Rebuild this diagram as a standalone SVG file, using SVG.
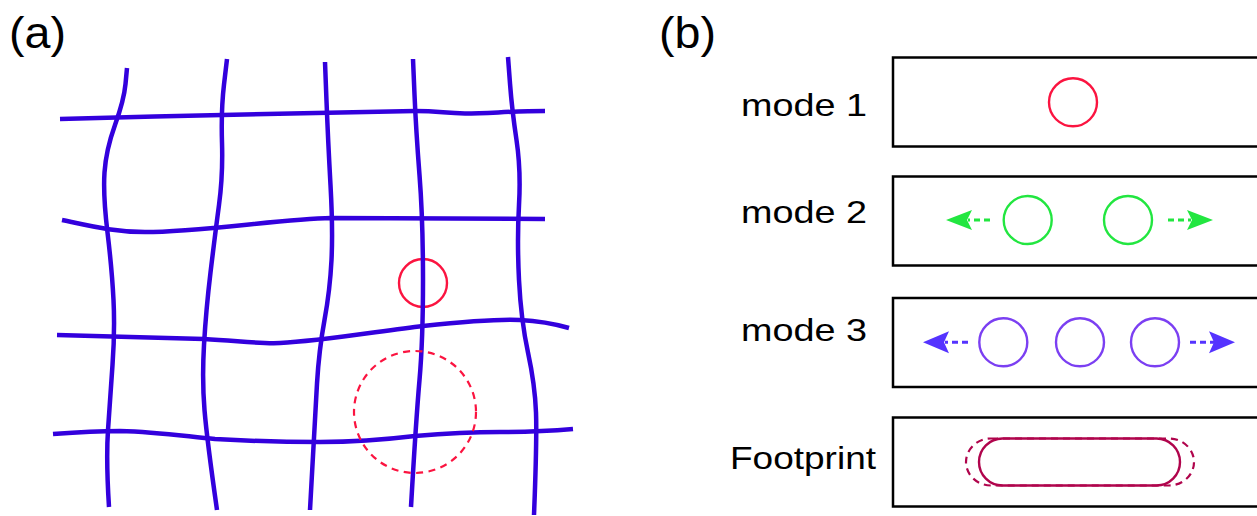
<svg xmlns="http://www.w3.org/2000/svg" width="1257" height="516" viewBox="0 0 1257 516">
<style>
.lbl{font-family:"Liberation Sans",Arial,sans-serif;fill:#000}
.grid{fill:none;stroke:#3300dd;stroke-width:4.5;stroke-linecap:butt}
.box{fill:#fff;stroke:#000;stroke-width:2.5}
.g{fill:none;stroke:#22e640;stroke-width:2.4}
.gd{fill:none;stroke:#22e640;stroke-width:3;stroke-dasharray:6 4}
.ga{fill:#22e640}
.p{fill:none;stroke:#7b3ff2;stroke-width:2.4}
.pd{fill:none;stroke:#5533ff;stroke-width:3;stroke-dasharray:6 4}
.pa{fill:#5533ff}
</style>
<rect width="1257" height="516" fill="#fff"/>
<g id="panel-a">
<text class="lbl" x="9" y="48" font-size="44" textLength="57" lengthAdjust="spacingAndGlyphs">(a)</text>
<circle id="red-circle" cx="423" cy="283" r="24" fill="none" stroke="#fb1440" stroke-width="2.4"/>
<g id="grid">
<path class="grid" d="M127,68 L125.5,84 Q124,100 115,125 Q106,150 104.5,172.5 Q103,195 107.5,232.5 Q112,270 113.5,300 Q115,330 112.5,365 Q110,400 108,430 Q106,460 109,507"/>
<path class="grid" d="M227,59 L224,84.5 Q221,110 222,142.5 Q223,175 219,205 Q215,235 210.5,272.5 Q206,310 204,345 Q202,380 204.5,410 Q207,440 217,510"/>
<path class="grid" d="M325,62 L326.5,101 Q328,140 330.5,185 Q333,230 331.5,260 Q330,290 324.5,320 Q319,350 317,383.5 Q315,417 310,510"/>
<path class="grid" d="M413,59 L414.5,94.5 Q416,130 419.5,175 Q423,220 423,280 Q423,340 419.5,380 Q416,420 411,507"/>
<path class="grid" d="M508,57 L510,83.5 Q512,110 516.5,140 Q521,170 519,205 Q517,240 519,280 Q521,320 528,352.5 Q535,385 536,412.5 Q537,440 534,515"/>
<path class="grid" d="M60,119 C200,115 380,111 415,111 C440,111 445,113.5 465,113.5 C490,113.5 510,111 545,111"/>
<path class="grid" d="M62,220 C95,227 115,232 145,232 C200,232 280,219 331,218 L545,219"/>
<path class="grid" d="M57,335 L204,339 C240,341 260,344 280,343 C320,341 380,331 423,326 C470,321 500,319 520,320 C540,321 555,324 569,328"/>
<path class="grid" d="M53,434 C80,432 100,431 120,431 C160,432 190,437 215,439 C250,441 290,442 320,442 C360,442 390,439 415,436 C450,433 480,432 500,432 C530,432 550,431 573,429"/>
</g>
<circle id="dashed-circle" cx="415" cy="412" r="61" fill="none" stroke="#fb1440" stroke-width="2.2" stroke-dasharray="7 5.5"/>
</g>
<g id="panel-b">
<text class="lbl" x="659" y="48" font-size="44" textLength="57" lengthAdjust="spacingAndGlyphs">(b)</text>
<g id="mode1">
<text class="lbl" x="741" y="116" font-size="31.5" textLength="126" lengthAdjust="spacingAndGlyphs">mode 1</text>
<rect class="box" x="893" y="57.5" width="380" height="89"/>
<circle cx="1073" cy="102.3" r="24" fill="none" stroke="#fb1440" stroke-width="2.4"/>
</g>
<g id="mode2">
<text class="lbl" x="741" y="222.7" font-size="31.5" textLength="126" lengthAdjust="spacingAndGlyphs">mode 2</text>
<rect class="box" x="893" y="176.5" width="380" height="89"/>
<circle class="g" cx="1027.7" cy="220" r="24"/>
<circle class="g" cx="1128" cy="220" r="24"/>
<line class="gd" x1="990" y1="220" x2="968" y2="220"/>
<path class="ga" d="M946,220 L972,210 L967,220 L972,230 Z"/>
<line class="gd" x1="1168" y1="220" x2="1191" y2="220"/>
<path class="ga" d="M1213,220 L1187,210 L1192,220 L1187,230 Z"/>
</g>
<g id="mode3">
<text class="lbl" x="741" y="341" font-size="31.5" textLength="126" lengthAdjust="spacingAndGlyphs">mode 3</text>
<rect class="box" x="893" y="298" width="380" height="89"/>
<circle class="p" cx="1003.3" cy="342.3" r="24"/>
<circle class="p" cx="1080" cy="342.3" r="24"/>
<circle class="p" cx="1155" cy="342.3" r="24"/>
<line class="pd" x1="968" y1="342.3" x2="945" y2="342.3"/>
<path class="pa" d="M923,342.3 L949,331.3 L944,342.3 L949,353.3 Z"/>
<line class="pd" x1="1190" y1="342.3" x2="1214" y2="342.3"/>
<path class="pa" d="M1235,342.3 L1209,331.3 L1214,342.3 L1209,353.3 Z"/>
</g>
<g id="footprint">
<text class="lbl" x="730" y="469.3" font-size="31.7" textLength="146" lengthAdjust="spacingAndGlyphs">Footprint</text>
<rect class="box" x="893" y="417.5" width="380" height="89"/>
<path d="M991,438.5 L1169,438.5 A25,23.5 0 0 1 1169,485.5 L991,485.5 A25,23.5 0 0 1 991,438.5 Z" fill="none" stroke="#b0044c" stroke-width="2.2" stroke-dasharray="7 5"/>
<rect x="979" y="438.5" width="201" height="47" rx="23.5" fill="none" stroke="#b0044c" stroke-width="2.4"/>
</g>
</g>
</svg>
